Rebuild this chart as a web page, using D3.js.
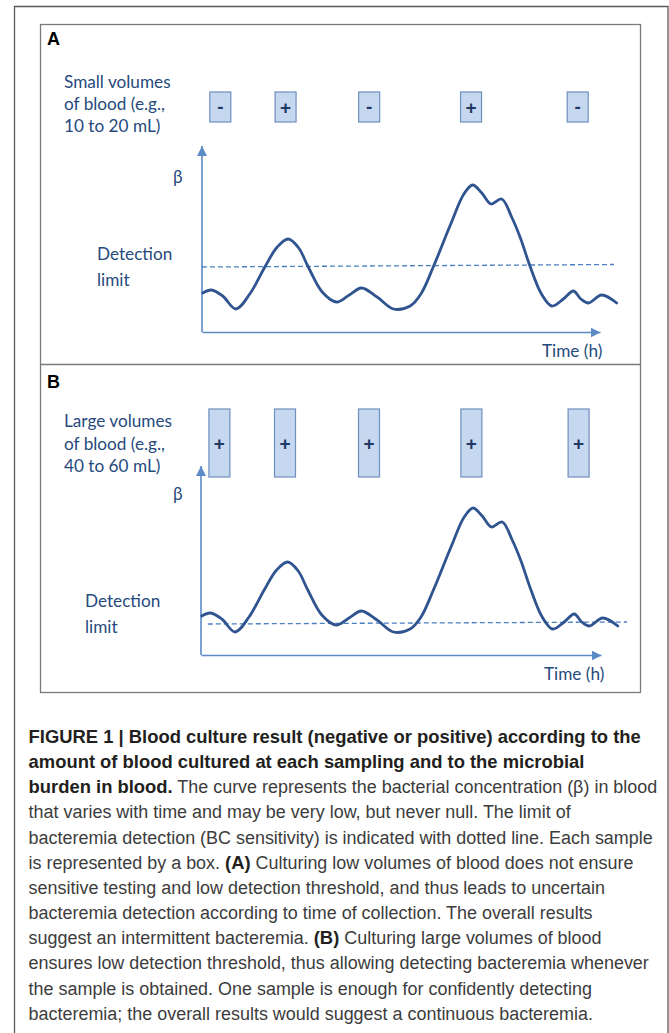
<!DOCTYPE html>
<html>
<head>
<meta charset="utf-8">
<script src="https://cdn.jsdelivr.net/npm/d3@7"></script>
<style>
  html, body { margin: 0; padding: 0; background: #fff; }
  svg { display: block; }
</style>
</head>
<body>
<svg id="fig" width="669" height="1033"></svg>
<script>
// ---------------- DATA ----------------
// time (arbitrary units, 0..100 = length of the time axis)
const curveTimes  = [0.2, 2.4, 5.2, 8.5, 12.0, 15.8, 18.9, 21.7, 24.3, 26.7, 30.2, 33.8, 37.0, 40.1, 44.0, 48.1, 52.3, 55.0, 58.1, 62.5, 65.8, 68.0, 70.3, 72.6, 75.3, 77.8, 80.0, 82.4, 85.3, 87.9, 90.8, 93.3, 95.2, 97.1, 100.4, 104.2];
// bacterial concentration (beta), arbitrary units
const betaValues  = [39, 42, 36, 23, 38, 65, 85, 93, 84, 65, 40, 30, 37, 44, 35, 23, 26, 38, 65, 108, 138, 147, 139, 128, 133, 115, 94, 66, 38, 26, 33, 41, 33, 29, 37, 29];
const detectionA  = [65, 67.5];      // detection limit (start, end) - small volumes
const detectionB  = [31, 33];        // detection limit (start, end) - large volumes
const sampleTimes = [4.6, 21.0, 42.0, 67.6, 94.4];
const resultsA    = ["-", "+", "-", "+", "-"];
const resultsB    = ["+", "+", "+", "+", "+"];
const labelA      = ["Small volumes", "of blood (e.g.,", "10 to 20 mL)"];
const labelB      = ["Large volumes", "of blood (e.g.,", "40 to 60 mL)"];
const captionLines = [
  [["b", "FIGURE 1 | Blood culture result (negative or positive) according to the"]],
  [["b", "amount of blood cultured at each sampling and to the microbial"]],
  [["b", "burden in blood."], ["r", " The curve represents the bacterial concentration (\u03b2) in blood"]],
  [["r", "that varies with time and may be very low, but never null. The limit of"]],
  [["r", "bacteremia detection (BC sensitivity) is indicated with dotted line. Each sample"]],
  [["r", "is represented by a box. "], ["b", "(A)"], ["r", " Culturing low volumes of blood does not ensure"]],
  [["r", "sensitive testing and low detection threshold, and thus leads to uncertain"]],
  [["r", "bacteremia detection according to time of collection. The overall results"]],
  [["r", "suggest an intermittent bacteremia. "], ["b", "(B)"], ["r", " Culturing large volumes of blood"]],
  [["r", "ensures low detection threshold, thus allowing detecting bacteremia whenever"]],
  [["r", "the sample is obtained. One sample is enough for confidently detecting"]],
  [["r", "bacteremia; the overall results would suggest a continuous bacteremia."]]
];

// ---------------- STYLE ----------------
const C = {
  text: "#264a7c",
  axis: "#5b8ac7",
  curve: "#2f5490",
  dash: "#4a7fc1",
  boxFill: "#c6d8f0",
  boxStroke: "#6f8fbd",
  sign: "#1f3864",
  frame: "#5a5a5a",
  inner: "#7a7a7a"
};
const labFont = "Lato, 'Open Sans', sans-serif";
const labSize = 17.2;

const svg = d3.select("#fig");

// outer page frame (left + top + right)
svg.append("path")
  .attr("d", "M14.5,1033 L14.5,6.5 L668,6.5 L668,1033")
  .attr("fill", "none").attr("stroke", C.frame).attr("stroke-width", 1.3);

// inner figure box
svg.append("rect").attr("x", 40.5).attr("y", 24.5).attr("width", 600).attr("height", 668)
  .attr("fill", "none").attr("stroke", C.inner).attr("stroke-width", 1.3);
svg.append("line").attr("x1", 40.5).attr("x2", 640.5).attr("y1", 364.5).attr("y2", 364.5)
  .attr("stroke", C.inner).attr("stroke-width", 1.3);

const defs = svg.append("defs");
defs.append("marker").attr("id", "arrow").attr("viewBox", "0 0 10 10")
  .attr("refX", 10).attr("refY", 5).attr("markerWidth", 10).attr("markerHeight", 10)
  .attr("markerUnits", "userSpaceOnUse").attr("orient", "auto")
  .append("path").attr("d", "M0,0 L10,5 L0,10 Z").attr("fill", C.axis);

function panel(cfg) {
  const g = svg.append("g");
  const x = d3.scaleLinear().domain([0, 100]).range([cfg.x0, cfg.x1]);
  const y = d3.scaleLinear().domain([0, cfg.yMax]).range([cfg.yBottom, cfg.yTop]);

  // panel letter
  g.append("text").attr("x", 47).attr("y", cfg.letterY)
    .attr("font-family", "'Liberation Sans', Arial, sans-serif").attr("font-weight", "bold")
    .attr("font-size", 18).attr("fill", "#000").text(cfg.letter);

  // volume label
  g.selectAll("text.vol").data(cfg.label).join("text").attr("class", "vol")
    .attr("x", 64).attr("y", (d, i) => cfg.labelY + i * cfg.labelDy)
    .attr("font-family", labFont).attr("font-size", labSize).attr("fill", C.text).text(d => d);

  // sample boxes
  const bw = 21;
  const boxes = g.selectAll("g.box").data(sampleTimes.map((t, i) => ({t, r: cfg.results[i]})))
    .join("g").attr("class", "box");
  boxes.append("rect")
    .attr("x", d => x(d.t) - bw / 2).attr("y", cfg.boxTop)
    .attr("width", bw).attr("height", cfg.boxH)
    .attr("fill", C.boxFill).attr("stroke", C.boxStroke).attr("stroke-width", 1.2);
  boxes.append("text")
    .attr("x", d => x(d.t)).attr("y", d => cfg.boxTop + cfg.boxH / 2 + (d.r === "+" ? 6.5 : 6))
    .attr("text-anchor", "middle").attr("font-family", "'Liberation Sans', Arial, sans-serif")
    .attr("font-weight", "bold").attr("font-size", 19).attr("fill", C.sign)
    .text(d => d.r);

  // axes (no ticks) with arrow heads
  const xAxis = g.append("g").attr("transform", `translate(0,${cfg.yBottom})`)
    .call(d3.axisBottom(x).tickValues([]).tickSizeOuter(0));
  xAxis.select(".domain").attr("stroke", C.axis).attr("stroke-width", 1.6).attr("marker-end", "url(#arrow)");
  const yAxis = g.append("g").attr("transform", `translate(${cfg.x0},0)`)
    .call(d3.axisLeft(y).tickValues([]).tickSizeOuter(0));
  yAxis.select(".domain").attr("stroke", C.axis).attr("stroke-width", 1.6)
    .attr("d", `M0,${cfg.yBottom}V${cfg.yTop}`).attr("marker-end", "url(#arrow)");

  // beta & axis labels
  g.append("text").attr("x", 173).attr("y", cfg.betaY).attr("font-family", labFont)
    .attr("font-size", labSize).attr("fill", C.text).text("\u03b2");
  g.append("text").attr("x", cfg.timeX).attr("y", cfg.timeY).attr("font-family", labFont)
    .attr("font-size", labSize).attr("fill", C.text).text("Time (h)");
  g.selectAll("text.det").data(["Detection", "limit"]).join("text").attr("class", "det")
    .attr("x", cfg.detX).attr("y", (d, i) => cfg.detY + i * 25.5)
    .attr("font-family", labFont).attr("font-size", labSize).attr("fill", C.text).text(d => d);

  // detection limit (dashed)
  g.append("line")
    .attr("x1", x(cfg.dashT[0])).attr("x2", x(cfg.dashT[1]))
    .attr("y1", y(cfg.detection[0])).attr("y2", y(cfg.detection[1]))
    .attr("stroke", C.dash).attr("stroke-width", 1.3).attr("stroke-dasharray", "5,3");

  // concentration curve
  const line = d3.line().x(d => x(d[0])).y(d => y(d[1])).curve(d3.curveCatmullRom.alpha(0.5));
  g.append("path").datum(curveTimes.map((t, i) => [t, betaValues[i]]))
    .attr("d", line).attr("fill", "none").attr("stroke", C.curve)
    .attr("stroke-width", 2.8).attr("stroke-linecap", "round").attr("stroke-linejoin", "round");
}

panel({
  letter: "A", letterY: 45, label: labelA, labelY: 88, labelDy: 22,
  results: resultsA, boxTop: 92, boxH: 30,
  x0: 202, x1: 600, yBottom: 332, yTop: 146, yMax: 186,
  detection: detectionA, dashT: [0, 103.5],
  betaY: 183, timeX: 542, timeY: 357, detX: 97, detY: 260
});
panel({
  letter: "B", letterY: 388, label: labelB, labelY: 427, labelDy: 22.5,
  results: resultsB, boxTop: 409, boxH: 68,
  x0: 201, x1: 601, yBottom: 655, yTop: 466, yMax: 189,
  detection: detectionB, dashT: [1.7, 106.5],
  betaY: 500, timeX: 544, timeY: 680, detX: 85, detY: 607
});

// ---------------- CAPTION ----------------
const cap = svg.append("g").attr("font-family", "'Liberation Sans Narrow', 'Arial Narrow', sans-serif");
captionLines.forEach((segs, i) => {
  const t = cap.append("text").attr("x", 28.6).attr("y", 743 + i * 25.15);
  segs.forEach(s => {
    t.append("tspan").attr("font-weight", s[0] === "b" ? "bold" : "normal")
      .attr("font-size", s[0] === "b" ? 18.4 : 17.95)
      .attr("fill", s[0] === "b" ? "#231f20" : "#3c3c3c").text(s[1]);
  });
});
</script>
</body>
</html>
